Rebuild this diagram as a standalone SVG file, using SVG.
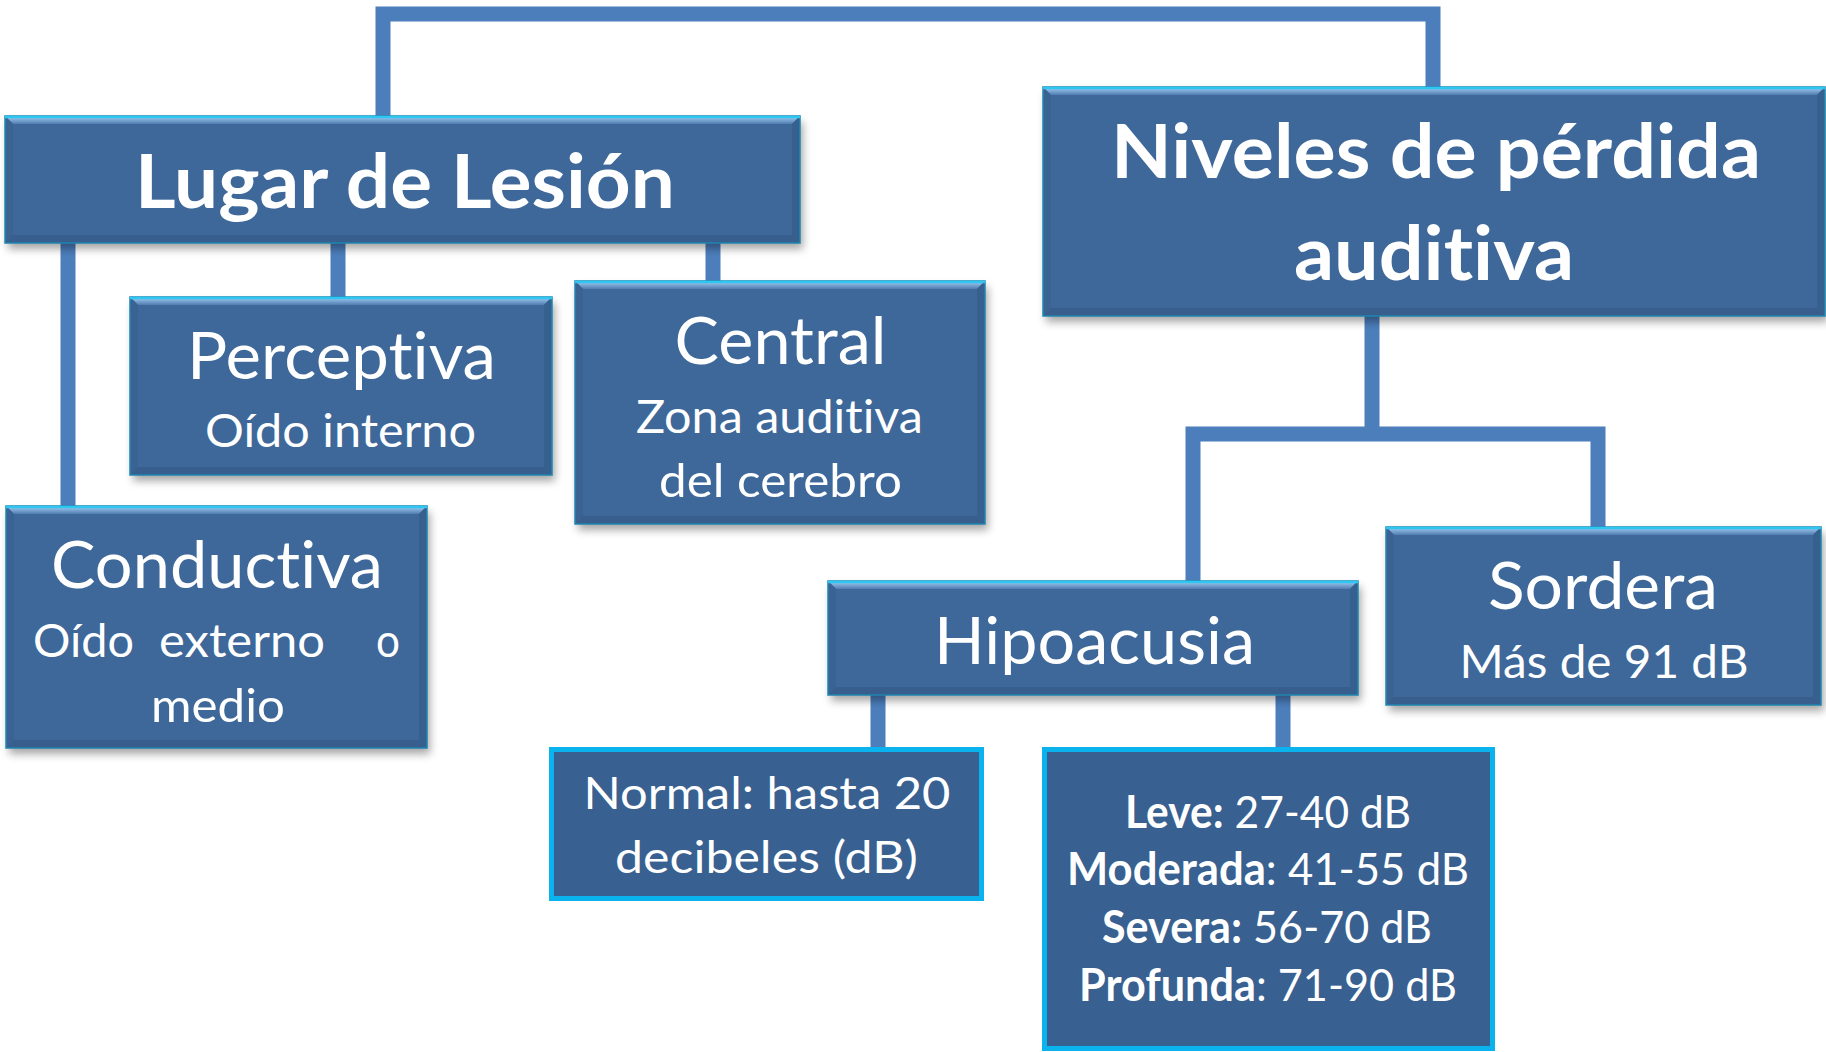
<svg xmlns="http://www.w3.org/2000/svg" width="1826" height="1052" viewBox="0 0 1826 1052">
<defs>
<filter id="sh" x="-5%" y="-5%" width="115%" height="125%">
<feDropShadow dx="3" dy="6" stdDeviation="4" flood-color="#000" flood-opacity="0.35"/>
</filter>
<linearGradient id="gt" x1="0" y1="0" x2="0" y2="1">
<stop offset="0" stop-color="#A9D2F6"/>
<stop offset="1" stop-color="#4F7DB1"/>
</linearGradient>
</defs>
<style>
.conn{fill:none;stroke:#4C7EBC;stroke-width:15;stroke-linejoin:miter}
.box{fill:#3E6899}
.bt{fill:url(#gt)}
.bl{fill:#3A6393}
.br{fill:#36608E}
.bb{fill:#375E8C}
.edge{fill:none;stroke:#1F86B0;stroke-width:1.5}
.hl{stroke:#30C6F2;stroke-width:2.5}
.pbox{fill:#386090;stroke:#0AB2EE;stroke-width:5}
text{fill:#FFFFFF;font-family:Lato,'Open Sans','Liberation Sans',sans-serif;text-anchor:middle;font-variant-ligatures:none;font-feature-settings:"liga" 0,"dlig" 0,"clig" 0,"calt" 0;letter-spacing:0.02px}
.t1{font-size:75px;font-weight:700}
.t2{font-size:65px}
.t3{font-size:47px}
.t4{font-size:45px}
.b{font-weight:700}
</style>
<rect width="1826" height="1052" fill="#FFFFFF"/>
<g id="connectors">
<path class="conn" d="M383,116 V14 H1433 V87"/>
<path class="conn" d="M68,243 V506"/>
<path class="conn" d="M338,243 V297"/>
<path class="conn" d="M713,243 V281"/>
<path class="conn" d="M1372,316 V434"/>
<path class="conn" d="M1193,581 V434 H1598 V527"/>
<path class="conn" d="M878,695 V747"/>
<path class="conn" d="M1283,695 V747"/>
</g>
<g id="lugar">
<rect class="box" x="5" y="116" width="795" height="127" filter="url(#sh)"/>
<polygon class="bt" points="5,116 800,116 792,124 13,124"/>
<polygon class="bl" points="5,116 13,124 13,235 5,243"/>
<polygon class="br" points="800,116 800,243 792,235 792,124"/>
<polygon class="bb" points="5,243 13,235 792,235 800,243"/>
<rect class="edge" x="5" y="116" width="795" height="127"/>
<line class="hl" x1="5" y1="117" x2="800" y2="117"/>
<text class="t1" x="405" y="208" textLength="540" lengthAdjust="spacingAndGlyphs">Lugar de Lesión</text>
</g>
<g id="niveles">
<rect class="box" x="1043" y="87" width="782" height="229" filter="url(#sh)"/>
<polygon class="bt" points="1043,87 1825,87 1817,95 1051,95"/>
<polygon class="bl" points="1043,87 1051,95 1051,308 1043,316"/>
<polygon class="br" points="1825,87 1825,316 1817,308 1817,95"/>
<polygon class="bb" points="1043,316 1051,308 1817,308 1825,316"/>
<rect class="edge" x="1043" y="87" width="782" height="229"/>
<line class="hl" x1="1043" y1="88" x2="1825" y2="88"/>
<text class="t1" x="1436" y="178" textLength="650" lengthAdjust="spacingAndGlyphs">Niveles de pérdida</text>
<text class="t1" x="1434" y="280" textLength="280" lengthAdjust="spacingAndGlyphs">auditiva</text>
</g>
<g id="perceptiva">
<rect class="box" x="130" y="297" width="422" height="178" filter="url(#sh)"/>
<polygon class="bt" points="130,297 552,297 544,305 138,305"/>
<polygon class="bl" points="130,297 138,305 138,467 130,475"/>
<polygon class="br" points="552,297 552,475 544,467 544,305"/>
<polygon class="bb" points="130,475 138,467 544,467 552,475"/>
<rect class="edge" x="130" y="297" width="422" height="178"/>
<line class="hl" x1="130" y1="298" x2="552" y2="298"/>
<text class="t2" x="341.5" y="378.5" textLength="309" lengthAdjust="spacingAndGlyphs">Perceptiva</text>
<text class="t3" x="340.5" y="447" textLength="271" lengthAdjust="spacingAndGlyphs">Oído interno</text>
</g>
<g id="central">
<rect class="box" x="575" y="281" width="410" height="243" filter="url(#sh)"/>
<polygon class="bt" points="575,281 985,281 977,289 583,289"/>
<polygon class="bl" points="575,281 583,289 583,516 575,524"/>
<polygon class="br" points="985,281 985,524 977,516 977,289"/>
<polygon class="bb" points="575,524 583,516 977,516 985,524"/>
<rect class="edge" x="575" y="281" width="410" height="243"/>
<line class="hl" x1="575" y1="282" x2="985" y2="282"/>
<text class="t2" x="780.5" y="363.5" textLength="212" lengthAdjust="spacingAndGlyphs">Central</text>
<text class="t3" x="779.5" y="432.5" textLength="287" lengthAdjust="spacingAndGlyphs">Zona auditiva</text>
<text class="t3" x="780.5" y="497" textLength="243" lengthAdjust="spacingAndGlyphs">del cerebro</text>
</g>
<g id="conductiva">
<rect class="box" x="6" y="506" width="421" height="242" filter="url(#sh)"/>
<polygon class="bt" points="6,506 427,506 419,514 14,514"/>
<polygon class="bl" points="6,506 14,514 14,740 6,748"/>
<polygon class="br" points="427,506 427,748 419,740 419,514"/>
<polygon class="bb" points="6,748 14,740 419,740 427,748"/>
<rect class="edge" x="6" y="506" width="421" height="242"/>
<line class="hl" x1="6" y1="507" x2="427" y2="507"/>
<text class="t2" x="217" y="588" textLength="332" lengthAdjust="spacingAndGlyphs">Conductiva</text>
<text class="t3" x="83.5" y="657" textLength="101" lengthAdjust="spacingAndGlyphs">Oído</text>
<text class="t3" x="242" y="657" textLength="166" lengthAdjust="spacingAndGlyphs">externo</text>
<text class="t3" x="388" y="657" textLength="24" lengthAdjust="spacingAndGlyphs">o</text>
<text class="t3" x="218" y="721.5" textLength="134" lengthAdjust="spacingAndGlyphs">medio</text>
</g>
<g id="hipoacusia">
<rect class="box" x="828" y="581" width="530" height="114" filter="url(#sh)"/>
<polygon class="bt" points="828,581 1358,581 1350,589 836,589"/>
<polygon class="bl" points="828,581 836,589 836,687 828,695"/>
<polygon class="br" points="1358,581 1358,695 1350,687 1350,589"/>
<polygon class="bb" points="828,695 836,687 1350,687 1358,695"/>
<rect class="edge" x="828" y="581" width="530" height="114"/>
<line class="hl" x1="828" y1="582" x2="1358" y2="582"/>
<text class="t2" x="1094.5" y="664" textLength="321" lengthAdjust="spacingAndGlyphs">Hipoacusia</text>
</g>
<g id="sordera">
<rect class="box" x="1386" y="527" width="435" height="178" filter="url(#sh)"/>
<polygon class="bt" points="1386,527 1821,527 1813,535 1394,535"/>
<polygon class="bl" points="1386,527 1394,535 1394,697 1386,705"/>
<polygon class="br" points="1821,527 1821,705 1813,697 1813,535"/>
<polygon class="bb" points="1386,705 1394,697 1813,697 1821,705"/>
<rect class="edge" x="1386" y="527" width="435" height="178"/>
<line class="hl" x1="1386" y1="528" x2="1821" y2="528"/>
<text class="t2" x="1603" y="609" textLength="230" lengthAdjust="spacingAndGlyphs">Sordera</text>
<text class="t3" x="1604" y="678" textLength="289" lengthAdjust="spacingAndGlyphs">Más de 91 dB</text>
</g>
<g id="normal">
<rect class="pbox" x="551.5" y="749.5" width="430" height="149"/>
<text class="t4" x="767" y="809" textLength="367" lengthAdjust="spacingAndGlyphs">Normal: hasta 20</text>
<text class="t4" x="766.5" y="873" textLength="303" lengthAdjust="spacingAndGlyphs">decibeles (dB)</text>
</g>
<g id="grados">
<rect class="pbox" x="1044.5" y="749.5" width="448" height="299"/>
<text class="t4" x="1268" y="828" textLength="286" lengthAdjust="spacingAndGlyphs"><tspan class="b">Leve:</tspan> 27-40 dB</text>
<text class="t4" x="1268" y="885" textLength="402" lengthAdjust="spacingAndGlyphs"><tspan class="b">Moderada</tspan>: 41-55 dB</text>
<text class="t4" x="1267" y="943" textLength="330" lengthAdjust="spacingAndGlyphs"><tspan class="b">Severa:</tspan> 56-70 dB</text>
<text class="t4" x="1268" y="1001" textLength="378" lengthAdjust="spacingAndGlyphs"><tspan class="b">Profunda</tspan>: 71-90 dB</text>
</g>
</svg>
